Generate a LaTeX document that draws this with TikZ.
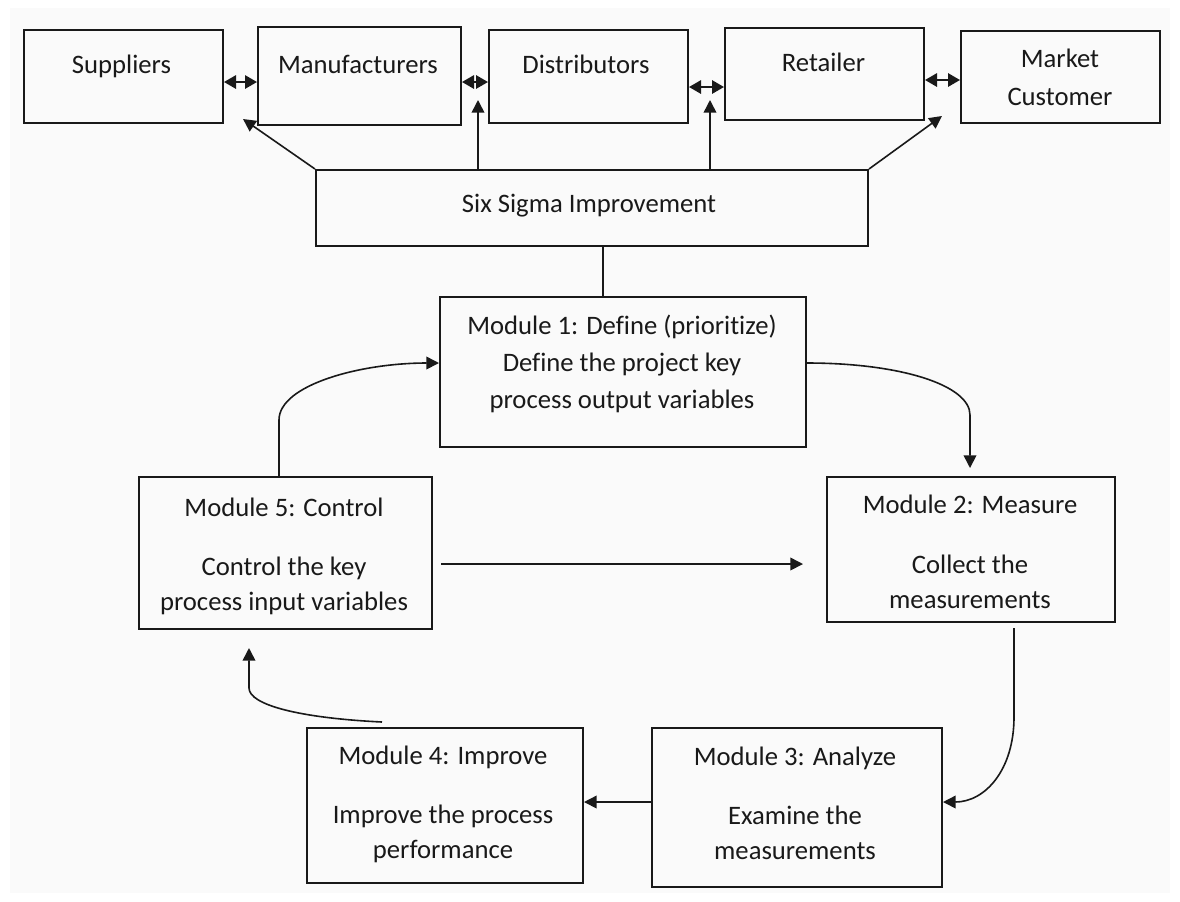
\documentclass[tikz,border=0pt]{standalone}
\usepackage{fontspec}
\setmainfont{Carlito}[Ligatures=NoCommon]
\usetikzlibrary{arrows.meta,fit,calc}
\definecolor{ink}{RGB}{25,25,25}
\definecolor{paper}{RGB}{250,250,250}
\begin{document}
\begin{tikzpicture}[x=0.75pt,y=-0.75pt,
  box/.style={draw=ink,line width=1.5pt,inner sep=0pt,rectangle},
  txt/.style={anchor=base,inner sep=0pt,text=ink,font=\fontsize{20}{24}\selectfont},
  arr/.style={draw=ink,line width=1.2pt,-{Triangle[length=9.5pt,width=9.5pt]}},
  dbl/.style={draw=ink,line width=1.5pt,{Triangle[length=9pt,width=10pt]}-{Triangle[length=9pt,width=10pt]}},
  plain/.style={draw=ink,line width=1.2pt}]
\useasboundingbox (0,0) rectangle (1180,901);
\fill[paper] (10,8) rectangle (1170,893);

% supply chain row
\node[box,fit={(24,30) (223,123)}] (sup) {};
\node[box,fit={(258,27) (461,125)}] (man) {};
\node[box,fit={(489,30) (688,123)}] (dis) {};
\node[box,fit={(725,28) (924,120)}] (ret) {};
\node[box,fit={(961,31) (1160,123)}] (mkt) {};
\node[txt] (supT) at (121.5,73) {Suppliers};
\node[txt] (manT) at (358,73) {Manufacturers};
\node[txt] (disT) at (586,73) {Distributors};
\node[txt] (retT) at (823.5,71) {Retailer};
\node[txt] (mktT) at (1060,67) {Market};
\node[txt] (mktT2) at (1060,105) {Customer};

% six sigma box
\node[box,fit={(316,170) (868,246)}] (six) {};
\node[txt] (sixT) at (589,212) {Six Sigma Improvement};

% modules
\node[box,fit={(440,297) (806,447)}] (m1) {};
\node[txt] (m1a) at (622,334) {Module 1: Define (prioritize)};
\node[txt] (m1b) at (622,371) {Define the project key};
\node[txt] (m1c) at (622,408) {process output variables};

\node[box,fit={(139,477) (432,629)}] (m5) {};
\node[txt] (m5a) at (284,516) {Module 5: Control};
\node[txt] (m5b) at (284,575) {Control the key};
\node[txt] (m5c) at (284,610) {process input variables};

\node[box,fit={(827,477) (1115,622)}] (m2) {};
\node[txt] (m2a) at (970,513) {Module 2: Measure};
\node[txt] (m2b) at (970,573) {Collect the};
\node[txt] (m2c) at (970,608) {measurements};

\node[box,fit={(652,728) (942,887)}] (m3) {};
\node[txt] (m3a) at (795,765) {Module 3: Analyze};
\node[txt] (m3b) at (795,824) {Examine the};
\node[txt] (m3c) at (795,859) {measurements};

\node[box,fit={(307,728) (583,883)}] (m4) {};
\node[txt] (m4a) at (443,764) {Module 4: Improve};
\node[txt] (m4b) at (443,823) {Improve the process};
\node[txt] (m4c) at (443,858) {performance};

% reference levels for connectors
\coordinate (ya) at (0,82);
\coordinate (yb) at (0,87);
\coordinate (yc) at (0,80);
\coordinate (t1) at (243,119);
\coordinate (t2) at (478,100);
\coordinate (t3) at (710,100);
\coordinate (t4) at (942,116);
\coordinate (x603) at (603,0);
\coordinate (x279) at (279,0);
\coordinate (y363) at (0,363);
\coordinate (x970) at (970,0);
\coordinate (y564) at (0,564);
\coordinate (x1014) at (1014,0);
\coordinate (y802) at (0,802);
\coordinate (x382) at (382,0);
\coordinate (x249) at (249,0);

% links along the chain
\draw[dbl] (sup.east |- ya) -- (man.west |- ya);
\draw[dbl] (man.east |- ya) -- (dis.west |- ya);
\draw[dbl] (dis.east |- yb) -- (ret.west |- yb);
\draw[dbl] (ret.east |- yc) -- (mkt.west |- yc);

% six sigma reaching into the chain
\draw[arr] (six.north west) -- (t1);
\draw[arr] (six.north -| t2) -- (t2);
\draw[arr] (six.north -| t3) -- (t3);
\draw[arr] (six.north east) -- (t4);
\draw[plain] (six.south -| x603) -- (m1.north -| x603);

% DMAIC cycle
\draw[arr] (m5.north -| x279) -- (279,420) .. controls (279,385) and (360,363) .. (m1.west |- y363);
\draw[arr] (m1.east |- y363) .. controls (900,363) and (970,385) .. (970,415) -- ($(m2.north -| x970)+(0,-8)$);
\draw[arr] ($(m5.east |- y564)+(8,0)$) -- ($(m2.west |- y564)+(-23,0)$);
\draw[arr] ($(m2.south -| x1014)+(0,5)$) -- (1014,717) .. controls (1014,770) and (985,802) .. (m3.east |- y802);
\draw[arr] (m3.west |- y802) -- (m4.east |- y802);
\draw[arr] ($(m4.north -| x382)+(0,-5)$) .. controls (300,718) and (249,705) .. (249,688) -- ($(m5.south -| x249)+(0,18)$);
\end{tikzpicture}
\end{document}
